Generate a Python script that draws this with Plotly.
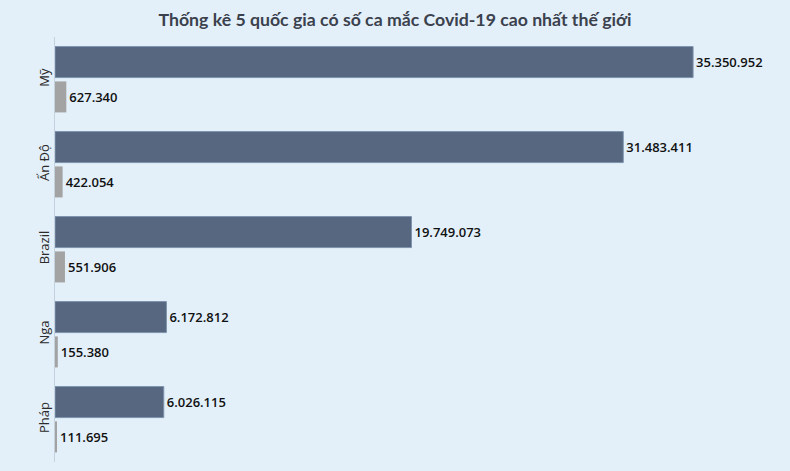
import plotly.graph_objects as go

countries = ["Mỹ", "Ấn Độ", "Brazil", "Nga", "Pháp"]
cases = [35350952, 31483411, 19749073, 6172812, 6026115]
deaths = [627340, 422054, 551906, 155380, 111695]

label_font = dict(family="Open Sans", size=13, color="#111111", weight=600)

fig = go.Figure()
fig.add_trace(go.Bar(
    y=countries, x=cases, orientation="h", name="Số ca mắc",
    marker=dict(color="#56677f", line=dict(color="#7d93ad", width=1)),
    text=cases, texttemplate="%{x:,}", textposition="outside",
    textfont=label_font, cliponaxis=False,
))
fig.add_trace(go.Bar(
    y=countries, x=deaths, orientation="h", name="Số ca tử vong",
    marker=dict(color="#a3a3a3", line=dict(color="#a3a3a3", width=0)),
    text=deaths, texttemplate="%{x:,}", textposition="outside",
    textfont=label_font, cliponaxis=False,
))

fig.update_layout(
    width=790, height=471,
    title=dict(text="<b>Thống kê 5 quốc gia có số ca mắc Covid-19 cao nhất thế giới</b>",
               x=0.5, xanchor="center", y=0.958, yanchor="middle",
               font=dict(family="Lato", size=17.7, color="#3b414d")),
    separators=",.",
    barmode="group",
    bargap=0.18,
    bargroupgap=0.11,
    showlegend=False,
    paper_bgcolor="#e3f0fa",
    plot_bgcolor="#e3f0fa",
    margin=dict(l=55, r=13, t=37, b=9),
)
fig.update_xaxes(range=[0, 40000000], visible=False, showgrid=False, zeroline=False,
                 automargin=False)
fig.update_yaxes(autorange="reversed", showgrid=False, showline=True, linecolor="#c3d2de",
                 linewidth=1, ticks="", tickangle=-90, automargin=False,
                 tickfont=dict(family="Open Sans", size=13, color="#2b2b2b"))

# drop the default 8px page margin so the figure sits at the window corner
fig.write_html("out.html", config={"displayModeBar": False},
               post_script="document.body.style.margin='0';")
